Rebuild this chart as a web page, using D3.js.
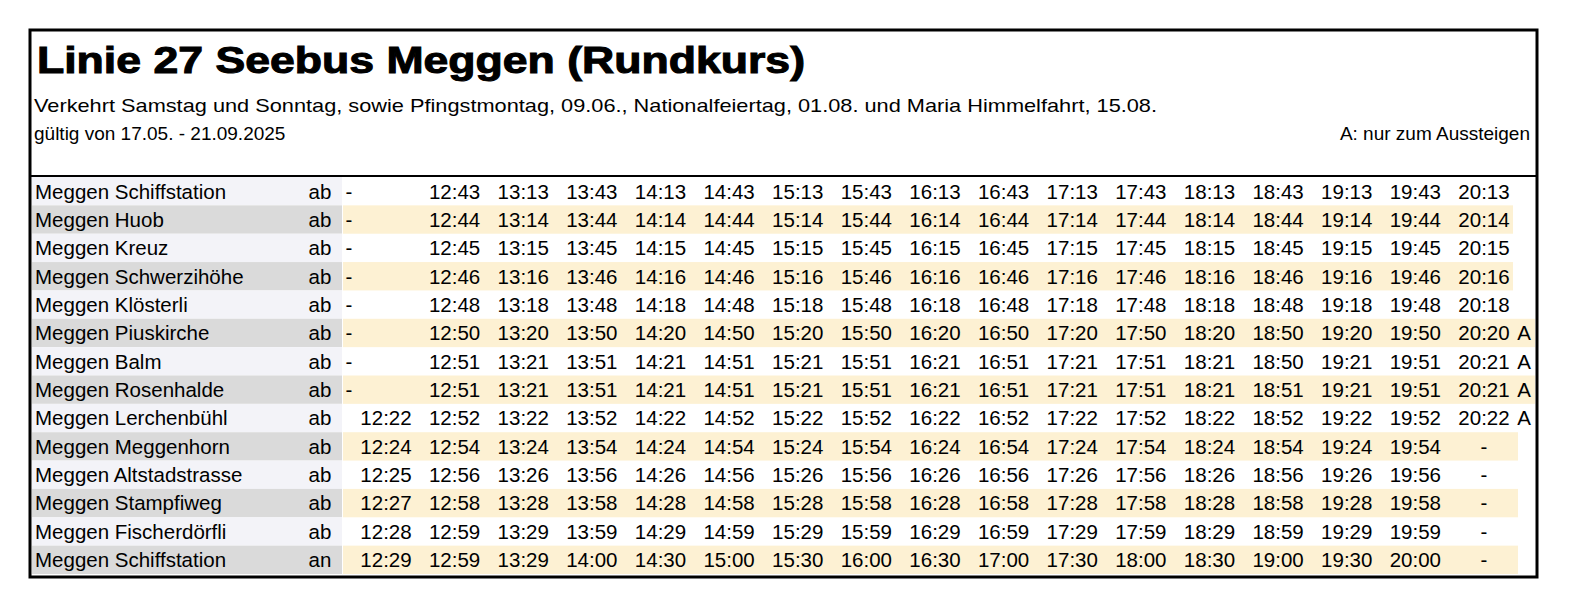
<!DOCTYPE html>
<html>
<head>
<meta charset="utf-8">
<script src="https://cdn.jsdelivr.net/npm/d3@7"></script>
<style>
  body { margin: 0; background: #fff; }
  text { font-family: "Liberation Sans", Arial, sans-serif; fill: #000; }
</style>
</head>
<body>
<svg id="chart" width="1575" height="609"></svg>
<script>
// timetable data
var title = "Linie 27 Seebus Meggen (Rundkurs)";
var subtitle = "Verkehrt Samstag und Sonntag, sowie Pfingstmontag, 09.06., Nationalfeiertag, 01.08. und Maria Himmelfahrt, 15.08.";
var validity = "gültig von 17.05. - 21.09.2025";
var footnote = "A: nur zum Aussteigen";

var stops = ["Meggen Schiffstation", "Meggen Huob", "Meggen Kreuz", "Meggen Schwerzihöhe",
  "Meggen Klösterli", "Meggen Piuskirche", "Meggen Balm", "Meggen Rosenhalde",
  "Meggen Lerchenbühl", "Meggen Meggenhorn", "Meggen Altstadstrasse", "Meggen Stampfiweg",
  "Meggen Fischerdörfli", "Meggen Schiffstation"];
var modes = ["ab", "ab", "ab", "ab", "ab", "ab", "ab", "ab", "ab", "ab", "ab", "ab", "ab", "an"];
var notes = ["", "", "", "", "", "A", "A", "A", "A", "", "", "", "", ""];

var times = [
  ["-", "12:43", "13:13", "13:43", "14:13", "14:43", "15:13", "15:43", "16:13", "16:43", "17:13", "17:43", "18:13", "18:43", "19:13", "19:43", "20:13"],
  ["-", "12:44", "13:14", "13:44", "14:14", "14:44", "15:14", "15:44", "16:14", "16:44", "17:14", "17:44", "18:14", "18:44", "19:14", "19:44", "20:14"],
  ["-", "12:45", "13:15", "13:45", "14:15", "14:45", "15:15", "15:45", "16:15", "16:45", "17:15", "17:45", "18:15", "18:45", "19:15", "19:45", "20:15"],
  ["-", "12:46", "13:16", "13:46", "14:16", "14:46", "15:16", "15:46", "16:16", "16:46", "17:16", "17:46", "18:16", "18:46", "19:16", "19:46", "20:16"],
  ["-", "12:48", "13:18", "13:48", "14:18", "14:48", "15:18", "15:48", "16:18", "16:48", "17:18", "17:48", "18:18", "18:48", "19:18", "19:48", "20:18"],
  ["-", "12:50", "13:20", "13:50", "14:20", "14:50", "15:20", "15:50", "16:20", "16:50", "17:20", "17:50", "18:20", "18:50", "19:20", "19:50", "20:20"],
  ["-", "12:51", "13:21", "13:51", "14:21", "14:51", "15:21", "15:51", "16:21", "16:51", "17:21", "17:51", "18:21", "18:50", "19:21", "19:51", "20:21"],
  ["-", "12:51", "13:21", "13:51", "14:21", "14:51", "15:21", "15:51", "16:21", "16:51", "17:21", "17:51", "18:21", "18:51", "19:21", "19:51", "20:21"],
  ["12:22", "12:52", "13:22", "13:52", "14:22", "14:52", "15:22", "15:52", "16:22", "16:52", "17:22", "17:52", "18:22", "18:52", "19:22", "19:52", "20:22"],
  ["12:24", "12:54", "13:24", "13:54", "14:24", "14:54", "15:24", "15:54", "16:24", "16:54", "17:24", "17:54", "18:24", "18:54", "19:24", "19:54", "-"],
  ["12:25", "12:56", "13:26", "13:56", "14:26", "14:56", "15:26", "15:56", "16:26", "16:56", "17:26", "17:56", "18:26", "18:56", "19:26", "19:56", "-"],
  ["12:27", "12:58", "13:28", "13:58", "14:28", "14:58", "15:28", "15:58", "16:28", "16:58", "17:28", "17:58", "18:28", "18:58", "19:28", "19:58", "-"],
  ["12:28", "12:59", "13:29", "13:59", "14:29", "14:59", "15:29", "15:59", "16:29", "16:59", "17:29", "17:59", "18:29", "18:59", "19:29", "19:59", "-"],
  ["12:29", "12:59", "13:29", "14:00", "14:30", "15:00", "15:30", "16:00", "16:30", "17:00", "17:30", "18:00", "18:30", "19:00", "19:30", "20:00", "-"]
];

var svg = d3.select("#chart");

// frame
svg.append("rect").attr("x", 30).attr("y", 30).attr("width", 1507).attr("height", 547)
  .attr("fill", "#fff").attr("stroke", "#000").attr("stroke-width", 3);
svg.append("line").attr("x1", 30).attr("x2", 1537).attr("y1", 176).attr("y2", 176)
  .attr("stroke", "#000").attr("stroke-width", 2);

// header texts
svg.append("text").attr("x", 37).attr("y", 73).attr("font-size", 36).attr("font-weight", "bold")
  .attr("stroke", "#000").attr("stroke-width", 1)
  .attr("textLength", 768).attr("lengthAdjust", "spacingAndGlyphs")
  .text(title);
svg.append("text").attr("x", 34).attr("y", 112).attr("font-size", 19)
  .attr("textLength", 1123).attr("lengthAdjust", "spacingAndGlyphs").text(subtitle);
svg.append("text").attr("x", 34).attr("y", 140).attr("font-size", 19).text(validity);
svg.append("text").attr("x", 1530).attr("y", 140).attr("font-size", 19)
  .attr("text-anchor", "end").text(footnote);

// scales
var y = d3.scaleBand().domain(d3.range(stops.length)).range([177, 574]);
var x = d3.scaleLinear().domain([0, times[0].length - 1]).range([386, 1484]);
var mid = function (i) { return y(i) + y.bandwidth() / 2; };

var rows = svg.selectAll("g.row").data(stops).enter().append("g").attr("class", "row");

// stop name backgrounds
rows.append("rect")
  .attr("x", 32).attr("width", 310)
  .attr("y", function (d, i) { return y(i); })
  .attr("height", y.bandwidth())
  .attr("fill", function (d, i) { return i % 2 ? "#dadada" : "#f3f3f8"; });

// time highlight on alternate rows
rows.each(function (d, i) {
  if (i % 2 === 0) return;
  d3.select(this).append("rect")
    .attr("x", 343)
    .attr("width", notes[i] ? 1192 : (i < 9 ? 1170 : 1175))
    .attr("y", y(i))
    .attr("height", y.bandwidth())
    .attr("fill", "#fdf1d3");
});

var fs = 20.5;
rows.append("text")
  .attr("x", 35)
  .attr("y", function (d, i) { return mid(i); })
  .attr("dy", "0.36em").attr("font-size", fs)
  .text(function (d) { return d; });

rows.append("text")
  .attr("x", 320).attr("text-anchor", "middle")
  .attr("y", function (d, i) { return mid(i); })
  .attr("dy", "0.36em").attr("font-size", fs)
  .text(function (d, i) { return modes[i]; });

rows.append("text")
  .attr("x", 1524).attr("text-anchor", "middle")
  .attr("y", function (d, i) { return mid(i); })
  .attr("dy", "0.36em").attr("font-size", fs)
  .text(function (d, i) { return notes[i]; });

// times
rows.each(function (d, i) {
  d3.select(this).selectAll("text.time").data(times[i]).enter().append("text")
    .attr("class", "time")
    .attr("x", function (t, j) { return j === 0 && t === "-" ? 349 : x(j); })
    .attr("y", mid(i))
    .attr("dy", "0.36em").attr("font-size", fs).attr("text-anchor", "middle")
    .text(function (t) { return t; });
});
</script>
</body>
</html>
